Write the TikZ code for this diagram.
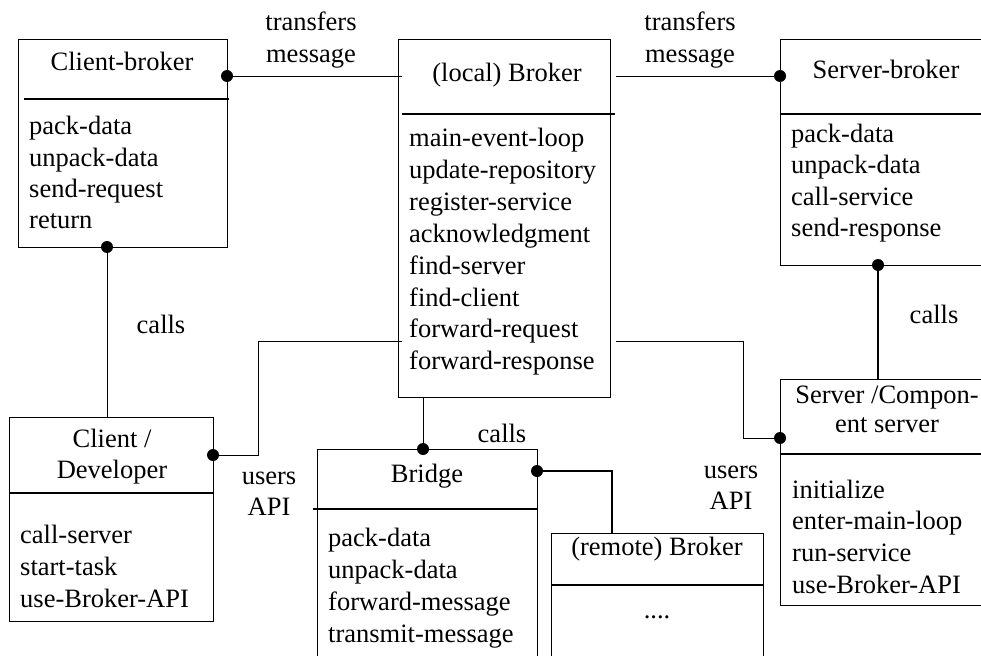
\documentclass[tikz,border=0pt]{standalone}
\usepackage{fontspec}
\setmainfont{Liberation Serif}
\begin{document}
\begin{tikzpicture}[x=1pt,y=-1pt,
  box/.style={draw, line width=1.1pt, rectangle, inner sep=0pt, anchor=north west},
  txt/.style={font=\fontsize{26.5}{32}\selectfont, inner sep=0pt},
  ttl/.style={txt, anchor=base},
  mth/.style={txt, anchor=base west},
  divline/.style={line width=1.1pt},
  conn/.style={line width=0.9pt},
  heavy/.style={line width=1.4pt},
  dot/.style={circle, fill=black, inner sep=0pt, minimum size=12pt}]
\useasboundingbox (0,0) rectangle (981,655);
\clip (0,0) rectangle (981,655);

% boxes
\node[box, minimum width=209pt, minimum height=208pt] (cb) at (18,39) {};
\node[box, minimum width=212pt, minimum height=358pt] (lb) at (398,39) {};
\node[box, minimum width=240pt, minimum height=226pt] (sb) at (780,39) {};
\node[box, minimum width=204pt, minimum height=204pt] (cd) at (9,417) {};
\node[box, minimum width=240pt, minimum height=226pt] (sc) at (780,379) {};
\node[box, minimum width=220pt, minimum height=260pt] (br) at (317,449) {};
\node[box, minimum width=212pt, minimum height=200pt] (rb) at (551,533) {};

% dividers
\draw[divline] (24,99) -- (229,99);
\draw[divline] (402,114) -- (615,114);
\draw[divline] (780,114) -- (1000,114);
\draw[divline] (9,493) -- (213,493);
\draw[divline] (780,454) -- (1000,454);
\draw[divline] (313,509) -- (537,509);
\draw[divline] (551,585) -- (763,585);

% titles
\node[ttl] (cbt) at (122,71) {Client-broker};
\node[ttl] (lbt) at (507,82) {(local) Broker};
\node[ttl] (sbt) at (886,79) {Server-broker};
\node[ttl] (cdt1) at (112,447) {Client /};
\node[ttl] (cdt2) at (112,478) {Developer};
\node[ttl] (sct1) at (887,403) {Server /Compon-};
\node[ttl] (sct2) at (887,432) {ent server};
\node[ttl] (brt) at (427,482) {Bridge};
\node[ttl] (rbt) at (657,555) {(remote) Broker};
\node[ttl] (rbm) at (657,618) {....};

% methods
\foreach \t [count=\i] in {pack-data,unpack-data,send-request,return}
  \node[mth] (cbm\i) at (29,{135+31*(\i-1)}) {\t};
\foreach \t [count=\i] in {main-event-loop,update-repository,register-service,acknowledgment,find-server,find-client,forward-request,forward-response}
  \node[mth] (lbm\i) at (409,{147+31.8*(\i-1)}) {\t};
\foreach \t [count=\i] in {pack-data,unpack-data,call-service,send-response}
  \node[mth] (sbm\i) at (791,{143+31*(\i-1)}) {\t};
\foreach \t [count=\i] in {call-server,start-task,use-Broker-API}
  \node[mth] (cdm\i) at (20,{543+32*(\i-1)}) {\t};
\foreach \t [count=\i] in {initialize,enter-main-loop,run-service,use-Broker-API}
  \node[mth] (scm\i) at (792,{498+31.7*(\i-1)}) {\t};
\foreach \t [count=\i] in {pack-data,unpack-data,forward-message,transmit-message}
  \node[mth] (brm\i) at (328,{546+32*(\i-1)}) {\t};

% labels
\node[ttl] (l1a) at (311,31) {transfers};
\node[ttl] (l1b) at (311,63) {message};
\node[ttl] (l2a) at (690,31) {transfers};
\node[ttl] (l2b) at (690,63) {message};
\node[ttl] (l3) at (161,333) {calls};
\node[ttl] (l4) at (934,323) {calls};
\node[ttl] (l5) at (502,442) {calls};
\node[ttl] (l6a) at (269,484) {users};
\node[ttl] (l6b) at (269,515) {API};
\node[ttl] (l7a) at (731,478) {users};
\node[ttl] (l7b) at (731,509) {API};

% dots
\node[dot] (d1) at (227,76) {};
\node[dot] (d2) at (780,76) {};
\node[dot] (d3) at (107,247) {};
\node[dot] (d4) at (213,455) {};
\node[dot] (d5) at (878,265) {};
\node[dot] (d6) at (780,438) {};
\node[dot] (d7) at (423,449) {};
\node[dot] (d8) at (537,471) {};

% connector bends
\coordinate (k1) at (258,455);
\coordinate (k2) at (258,341);
\coordinate (k3) at (743,341);
\coordinate (k4) at (743,438);
\coordinate (k5) at (612,471);

% connectors
\draw[conn] (d1.center) -- ([xshift=4pt]lb.west |- d1);
\draw[conn] ([xshift=5pt]lb.east |- d2) -- (d2.center);
\draw[conn] (d3.center) -- (d3 |- cd.north);
\draw[conn] (d4.center) -- (k1) -- (k2) -- ([xshift=4pt]lb.west |- k2);
\draw[heavy] (d5.center) -- (d5 |- sc.north);
\draw[conn] ([xshift=5pt]lb.east |- k3) -- (k3) -- (k4) -- (d6.center);
\draw[conn] (d7.center) -- (d7 |- lb.south);
\draw[heavy] (d8.center) -- (k5) -- (k5 |- rb.north);
\end{tikzpicture}
\end{document}
